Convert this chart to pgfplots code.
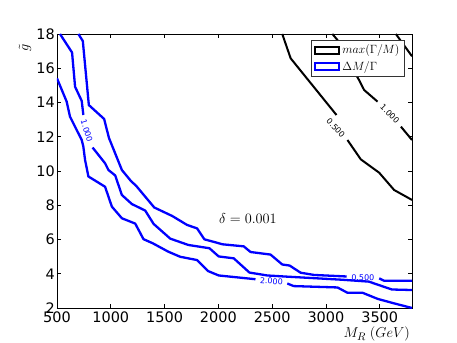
\documentclass[border=0pt]{standalone}
\usepackage[no-math]{fontspec}
\newfontfamily\dejavu{DejaVu Sans}
\usepackage{pgfplots}
\pgfplotsset{compat=1.18}
\usetikzlibrary{calc}

\pgfplotsset{
  boxleg/.style={legend image code/.code={\draw[line width=2bp,fill=white] (0bp,-3.5bp) rectangle (24bp,3.5bp);}},
  bl1/.style={blue, line width=2.3bp, line join=round, forget plot},
  bk1/.style={black, line width=2bp, line join=round, forget plot},
}
\tikzset{clab/.style={font=\dejavu\fontsize{8}{9}\selectfont, inner sep=0pt}}

\begin{document}
\begin{tikzpicture}
\begin{axis}[
  scale only axis, width=355bp, height=274bp,
  xmin=500, xmax=3800, ymin=2, ymax=18,
  xtick={500,1000,...,3500}, xticklabels={500,1000,1500,2000,2500,3000,3500},
  ytick={2,4,...,18}, yticklabels={2,4,6,8,10,12,14,16,18},
  tick align=inside, major tick length=4bp,
  tick style={black, line width=0.6bp},
  axis line style={black, line width=0.8bp},
  ticklabel style={font=\dejavu\fontsize{14.5}{16}\selectfont},
  xticklabel style={inner sep=1bp, yshift=-3bp},
  yticklabel style={inner sep=2bp},
  every axis x label/.style={at={(rel axis cs:1,0)}, anchor=north east, inner sep=0pt, yshift=-19bp, xshift=-2bp, font=\fontsize{15}{17}\selectfont},
  every axis y label/.style={at={(rel axis cs:0,0.951)}, xshift=-32bp, rotate=90, anchor=center, font=\fontsize{15}{17}\selectfont},
  xlabel={$M_R\;(GeV)$},
  ylabel={$\tilde{g}$},
  legend cell align=left,
  legend style={at={(0.98,0.978)}, anchor=north east, draw=black!80, line width=0.8bp, fill=white,
    font=\fontsize{12}{14}\selectfont, inner xsep=3bp, inner ysep=2.5bp, row sep=2bp},
]
\coordinate (bl) at (rel axis cs:0,0);
\coordinate (tr) at (rel axis cs:1,1);

\addlegendimage{black, boxleg}
\addlegendentry{$max(\Gamma/M)$}
\addlegendimage{blue, boxleg}
\addlegendentry{$\Delta M/\Gamma$}

% max(Gamma/M) contours
\addplot[bk1] coordinates {(2594,18) (2672,16.58) (3098,13.27)};
\addplot[bk1] coordinates {(3200,11.81) (3324,10.68) (3495,9.90) (3634,8.89) (3800,8.31)};
\addplot[bk1] coordinates {(3060,18) (3107,17.65) (3200,16.5) (3308,15.31) (3355,14.73) (3480,14.05)};
\addplot[bk1] coordinates {(3697,12.59) (3800,11.81)};
\addplot[bk1] coordinates {(3650,18) (3712,17.46) (3800,16.7)};

% Delta M / Gamma = 2.000
\addplot[bl1] coordinates {(500,15.41) (590,14.05) (621,13.17) (730,11.81) (745,11.42) (761,10.64) (792,9.68)
  (947,9.08) (1010,7.92) (1103,7.24) (1227,6.93) (1304,6.02) (1390,5.78) (1534,5.29) (1646,4.99)
  (1802,4.80) (1903,4.16) (2003,3.90) (2112,3.83) (2345,3.68)};
\addplot[bl1] coordinates {(2641,3.43) (2700,3.28) (3107,3.20) (3200,2.89) (3340,2.89) (3482,2.53) (3634,2.27) (3800,2.0)};

% Delta M / Gamma = 1.000
\addplot[bl1] coordinates {(528,18) (640,16.92) (668,14.92) (730,14.09) (745,13.27)};
\addplot[bl1] coordinates {(831,11.37) (947,10.45) (978,10.06) (1041,9.74) (1103,8.60) (1196,8.07) (1320,7.69)
  (1398,6.91) (1553,6.05) (1721,5.68) (1917,5.49) (2003,5.01) (2143,4.90) (2289,4.07) (2454,3.90)
  (2641,3.83) (3151,3.65) (3399,3.54) (3613,3.08) (3800,3.05)};

% Delta M / Gamma = 0.500
\addplot[bl1] coordinates {(699,18) (740,17.59) (796,13.85) (938,13.04) (983,11.93) (1103,10.06) (1180,9.47)
  (1243,9.08) (1404,7.87) (1572,7.37) (1709,6.85) (1802,6.65) (1870,6.01) (1982,5.82) (2038,5.72)
  (2236,5.60) (2299,5.27) (2485,5.12) (2594,4.54) (2662,4.48) (2765,4.06) (2889,3.93) (3193,3.84)};
\addplot[bl1] coordinates {(3495,3.73) (3541,3.59) (3800,3.59)};

\node[clab, blue, rotate=-73] at (axis cs:776,12.34) {1.000};
\node[clab, blue, rotate=-2] at (axis cs:3343,3.78) {0.500};
\node[clab, blue, rotate=-4] at (axis cs:2493,3.56) {2.000};
\node[clab, black, rotate=-47] at (axis cs:3091,12.51) {0.500};
\node[clab, black, rotate=-45] at (axis cs:3594,13.33) {1.000};

\node[anchor=base, font=\fontsize{15}{17}\selectfont, inner sep=0pt] at (axis cs:2275,6.95) {$\delta=0.001$};
\end{axis}
\pgfresetboundingbox
\path[use as bounding box] ($(bl)+(-57bp,-35bp)$) rectangle ($(tr)+(45bp,34bp)$);
\end{tikzpicture}
\end{document}
